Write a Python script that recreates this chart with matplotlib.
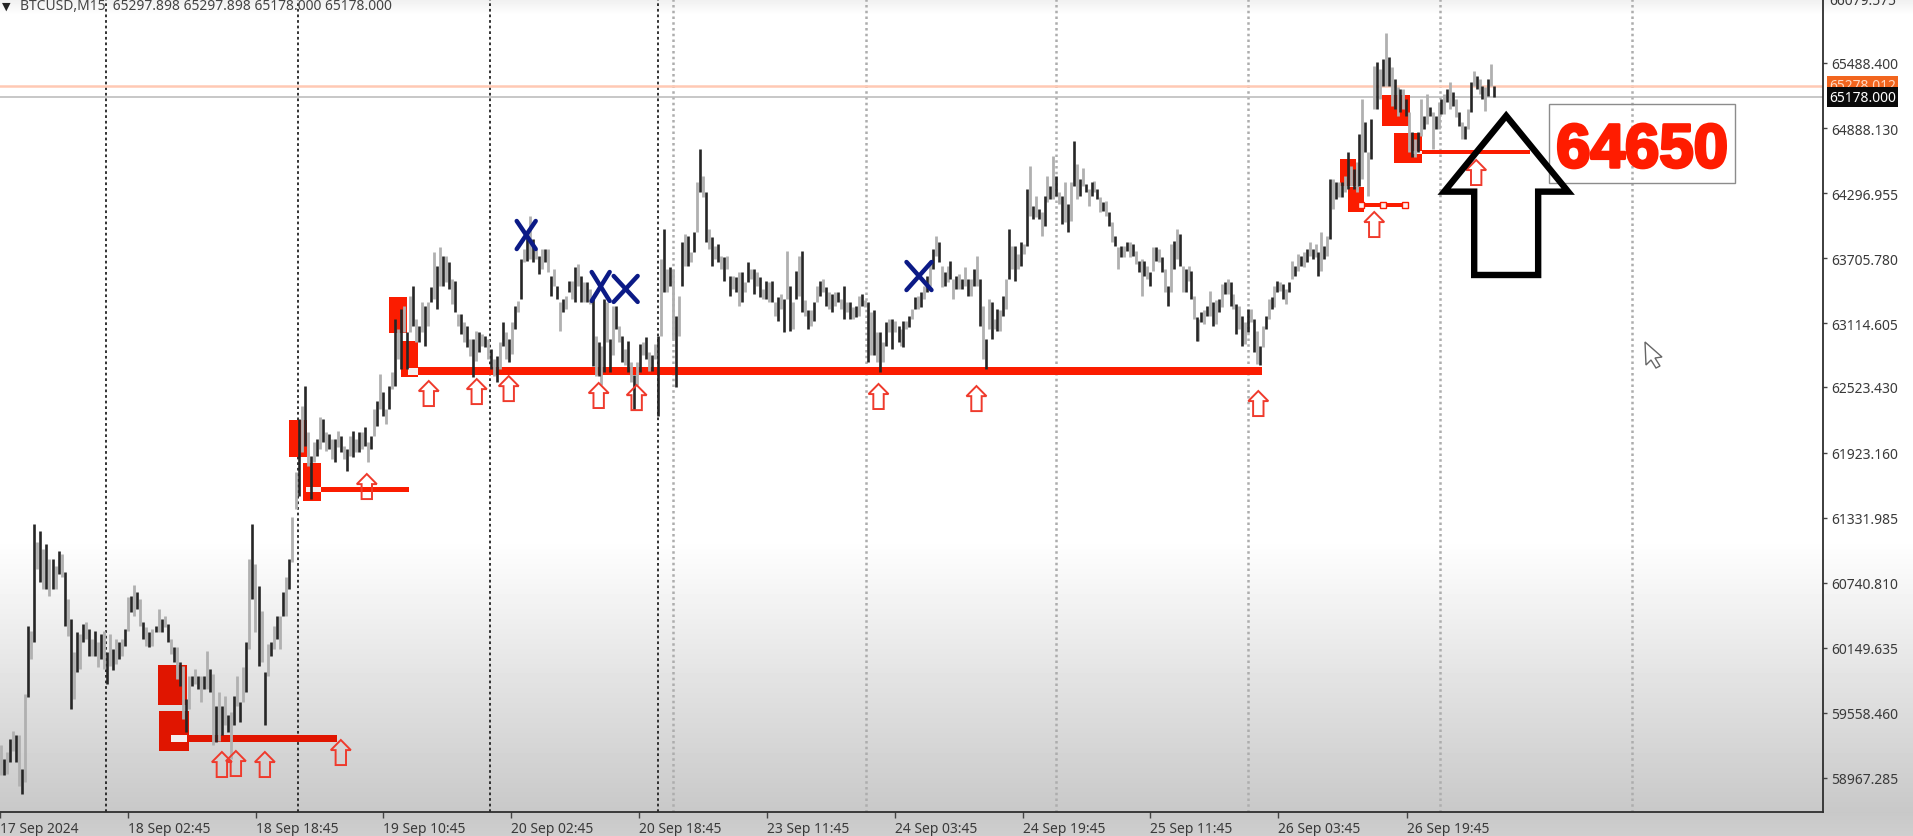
import numpy as np
import matplotlib
matplotlib.use("Agg")
import matplotlib.pyplot as plt
import matplotlib.patheffects as pe
from matplotlib.patches import Polygon, Rectangle
from matplotlib.transforms import IdentityTransform

# (low, high) price of the bars, section by section
hl_1 = [(58990,59263),(58990,59142),(59005,59202),(59111,59323),(59217,59399),(59111,59354),(58899,59354),(58823,59051),
(58930,59732),(59702,60354),(60051,60308),(60202,61278),(60869,61111),(60747,61217),(60687,61050),(60687,61096),
(60626,60960),(60687,60960),(60687,60899),(60823,61035),(60793,61005),(60354,60838),(60263,60596),(59596,60414),
(59687,60111),(59929,60293),(59960,60278),(60202,60369),(60232,60384),(60081,60323),(60081,60232),(60081,60308),
(59975,60202),(60051,60278),(59960,60308),(59823,60111),(59990,60278),(59945,60141),(60005,60232),(60051,60202),
(60081,60232),(60172,60323),(60308,60611),(60475,60626),(60445,60723),(60505,60657),(60354,60596),(60232,60384),
(60172,60338),(60157,60293),(60172,60323),(60293,60354),(60293,60505),(60293,60414),(60338,60445),(60202,60369),
(60096,60232),(60020,60157),(59869,60157),(59808,60020),(59505,59990),(59384,59687),(59596,59899),(59808,59899),
(59823,59960),(59778,59899),(59657,59899),(59778,59899),(59778,60126),(59748,59960),(59263,59914),(59293,59626),
(59308,59748),(59354,59626),(59445,59717),(59384,59536),(59142,59566),(59445,59717),(59626,59899),(59475,59657),
(59657,59975),(59748,60202),(60141,60960),(60596,61278),(60293,60914),(59990,60717),(60020,60490),(59445,59929),
(59899,60187),(60081,60202),(60141,60354),(60232,60445),(60141,60445),(60445,60657),(60445,60793),(60687,60960),
(60929,61338)]
hl_2 = [(61415,61748),(61535,62233),(61930,62354),(61990,62536),(61809,62112),(61506,61900),(61839,62021),(61900,62051),
(61960,62248),(62021,62233),(61945,62112),(61960,62097),(61869,62051),(61839,62051),(61975,62127),(61930,62081),
(61869,61990),(61763,61960),(61900,62081),(61885,62127),(61930,62051),(61930,62112),(61960,62112),(61990,62157),
(61839,62021),(61960,62081),(62081,62324),(62172,62400),(62324,62642),(62263,62475),(62188,62324),(62324,62536),
(62506,62657),(62536,63142),(62778,63051),(62687,63233),(63021,63263),(62687,63021),(63021,63354),(63081,63445),
(62930,63142),(62930,63081),(63021,63293),(62900,63263),(63081,63293),(63293,63430),(63324,63748),(63233,63627),
(63445,63793),(63445,63718),(63475,63718),(63415,63657),(63278,63506),(63203,63490),(63081,63188),(63006,63188),
(62930,63112),(62885,63081),(62809,62960),(62612,62960),(62763,63036),(62839,63021),(62900,63006),(62885,62990),
(62779,62960),(62687,62870),(62627,62779),(62566,62809),(62687,62930),(62900,63112),(62778,63021),(62748,62960),
(62824,63112),(63051,63263),(63203,63309),(63324,63687),(63657,63778),(63672,63900),(63687,64078),(63657,63869),
(63688,63778),(63551,63718),(63596,63778),(63657,63778),(63566,63778),(63354,63536),(63445,63596),(63324,63445),
(63036,63293),(63203,63324),(63233,63354),(63384,63490),(63324,63490),(63293,63612),(63445,63642),(63293,63536),
(63293,63475),(63293,63475),(63278,63415),(62718,63324),(62627,62990),(62627,62930)]
hl_3 = [(62537,62900),(62658,63325),(62931,63294),(62658,62961),(62810,63264),(63052,63264),(62931,63082),(62749,62991),
(62719,62870),(62658,62946),(62567,62749),(62310,62628),(62537,62749),(62658,62916),(62810,62931),(62779,62976),
(62673,62840),(62673,62810),(62779,62916),(62264,62991),(62991,63688),(63385,63961),(63385,63597),(63446,63613),
(62961,63597),(62522,63173),(62991,63355),(63446,63840),(63628,63916),(63628,63900),(63658,63749),(63749,63931),
(63931,64385),(64294,64688),(64249,64446),(63840,64294),(63779,63961),(63628,63885),(63688,63810),(63658,63825),
(63597,63719),(63491,63703),(63597,63719),(63355,63537),(63416,63537),(63385,63522),(63264,63567),(63294,63567),
(63385,63476),(63476,63658),(63507,63597),(63370,63597),(63446,63567),(63340,63522),(63325,63416),(63325,63491),
(63294,63476),(63294,63491),(63173,63294),(63128,63340),(63234,63370),(63022,63325),(63325,63764),(63037,63446),
(63052,63294),(63325,63582),(63355,63719),(63204,63764),(63173,63310),(63052,63219),(63082,63219),(63128,63294),
(63294,63446),(63355,63491),(63385,63507),(63264,63431),(63234,63385),(63204,63370),(63264,63385),(63294,63385),
(63234,63325),(63143,63446),(63204,63294),(63143,63294),(63143,63249),(63158,63264),(63173,63355),(63264,63370),
(63249,63310),(62749,63294),(62810,63204),(62810,63219),(62749,63022),(62658,63022),(62749,62931),(62900,63113),
(63022,63143),(62870,63143),(63022,63128),(62931,63082)]
hl_4 = [(62900,63052),(62885,63128),(63052,63128),(63067,63173),(63143,63234),(63234,63340),(63234,63355),(63249,63385),
(63325,63446),(63385,63537),(63446,63658),(63597,63779),(63719,63900),(63658,63840),(63431,63628),(63446,63567),
(63476,63628),(63506,63673),(63325,63507),(63416,63537),(63416,63552),(63416,63507),(63446,63612),(63355,63507),
(63355,63507),(63446,63597),(63446,63719),(63082,63507),(62779,63264),(62688,62961),(63052,63325),(62961,63294),
(63052,63143),(63037,63234),(63037,63219),(63173,63355),(63234,63507),(63507,63961),(63597,63809),(63491,63809),
(63597,63734),(63628,63840),(63734,63825),(63809,64325),(64082,64537),(64052,64173),(64067,64264),(64052,64143),
(63900,64113),(63991,64264),(64204,64446),(64234,64355),(64234,64628),(64264,64446),(64188,64294),(64006,64264),
(64022,64385),(63931,64188),(64037,64385),(64355,64764),(64234,64552),(64264,64415),(64355,64512),(64294,64370),
(64173,64325),(64264,64385),(64294,64400),(64234,64325),(64113,64249),(64128,64204),(64082,64219),(63991,64113),
(63840,64022),(63809,63900),(63597,63794),(63703,63809),(63703,63809),(63764,63846),(63703,63846),(63719,63825),
(63643,63764),(63567,63673),(63355,63688),(63537,63673),(63506,63628),(63446,63567),(63582,63794),(63673,63794),
(63658,63779),(63567,63703),(63385,63597),(63264,63446),(63385,63825),(63597,63855),(63688,63961),(63628,63916),
(63385,63628),(63385,63597),(63491,63628),(63325,63582),(63143,63355),(62946,63158)]
hl_5 = [(62946,63143),(63113,63204),(63097,63219),(63173,63264),(63173,63400),(63082,63294),(63097,63310),(63204,63325),
(63249,63461),(63370,63476),(63370,63506),(63264,63476),(63234,63370),(63006,63279),(63052,63264),(62900,63173),
(62916,63113),(63022,63234),(63113,63234),(62840,63143),(62734,63037),(62719,62900),(62885,63082),(63052,63173),
(63143,63325),(63234,63340),(63249,63446),(63385,63491),(63400,63476),(63325,63461),(63279,63415),(63385,63476),
(63506,63673),(63537,63628),(63582,63734),(63628,63719),(63613,63749),(63658,63779),(63719,63840),(63688,63779),
(63704,63825),(63537,63749),(63582,63931),(63688,63810),(63719,63900),(63870,64416),(64143,64416),(64234,64385),
(64249,64385),(64249,64385),(64294,64446),(64325,64658),(64355,64537),(64325,64507),(64294,64567),(64355,64825),
(64416,65143),(64658,64931),(64264,64658),(64597,64961),(65052,65446),(65052,65476),(65143,65415),(65264,65506),
(65264,65743),(65264,65522),(65082,65431),(65052,65325),(64991,65249),(65022,65234),(65052,65234),(64991,65143),
(64658,65022),(64613,64840),(64613,64779),(64658,64840),(64810,65143),(64870,64991),(64916,65188),(64991,65067),
(64688,65022),(64870,64991),(64870,65112),(65006,65143),(65006,65188),(65112,65234),(65052,65294),(65082,65203),
(64976,65143),(64900,65022),(64779,64931),(64779,64900),(64870,65052),(65022,65294),(65264,65400),(65234,65355),
(65188,65325),(65143,65264),(65037,65249),(65173,65325),(65264,65461),(65158,65264)]
sections = [(hl_1, 0, 145.5), (hl_2, 147.5, 299), (hl_3, 300, 449), (hl_4, 450, 598.5), (hl_5, 599, 747)]

price_labels = ["58967.285", "59558.460", "60149.635", "60740.810", "61331.985", "61923.160", "62523.430",
                "63114.605", "63705.780", "64296.955", "64888.130", "65488.400"]
price_marks = [58967.285, 59558.46, 60149.635, 60740.81, 61331.985, 61923.16, 62523.43,
               63102, 63695, 64287, 64876, 65470]
top_label = "66079.575"
bid_label, bid_level = "65178.000", 65160
ask_label, ask_level = "65278.012", 65262
date_ticks = [-0.5, 63.5, 127.5, 191, 255, 319, 383, 447, 511.5, 575, 639, 703.5]
date_labels = ["17 Sep 2024", "18 Sep 02:45", "18 Sep 18:45", "19 Sep 10:45", "20 Sep 02:45", "20 Sep 18:45",
               "23 Sep 11:45", "24 Sep 03:45", "24 Sep 19:45", "25 Sep 11:45", "26 Sep 03:45", "26 Sep 19:45"]
black_seps = [52.5, 148.5, 244.5, 328.5]
gray_seps = [336, 432.5, 528, 624, 720, 816]

# red zones: bar from, bar to, price low, price high
zones = [(78.5,93,59631,59995),(79,94,59213,59577),(144,153,61887,62223),(151,160,61487,61832),
         (194,203,63015,63342),(200,208.5,62614,62942),(670,678,64352,64597),(674,682,64115,64342),
         (691,705,64897,65179),(697,711,64561,64833)]
levels = [(94,168,59295,59358),(160,204,61568,61614),(208.5,631,62632,62705),(679,703.5,64160,64197),(711,765,64642,64679)]
holes = [(85,93,59295,59358),(152.5,160,61568,61614),(203.5,208.5,62632,62696),(706,711,64642,64670)]
handles = [680.5, 691.5, 702.5]
handle_price = 64178
up_arrows = [(110.5,59204),(117.5,59213),(132,59204),(170,59313),(183,61732),(214,62578),(238,62596),(254,62623),
             (299,62560),(318,62541),(439,62551),(488,62532),(629,62487),(687,64115),(738,64588)]
crosses = [(258,267.5,63778,64033),(295.5,304.5,63306,63569),(306.5,318.5,63297,63533),(453,465.5,63405,63660)]
big_arrow = [(753,64990),(784,64300),(769,64300),(769,63542),(737,63542),(737,64300),(722,64300)]
note_box = (774.5,867.5,64379,65097)
note_text = "64650"

W, H = 1913, 837
fig = plt.figure(figsize=(W/100, H/100), dpi=100)
bg = fig.add_axes([0, 0, 1, 1], zorder=0)
rows = np.arange(H)
shade = np.interp(rows, [0, 16, 540, 813, 837], [0.94, 1.0, 1.0, 0.785, 0.81])
bg.imshow(shade[:, None], cmap="gray", vmin=0, vmax=1, aspect="auto")
bg.axis("off")

ax = fig.add_axes([0, 1-813/H, 1823/W, 813/H], zorder=1)
ax.patch.set_alpha(0)
ax.set_xlim(0, 911.5)
ax.set_ylim(58658, 66052)
for s in ("top", "left"):
    ax.spines[s].set_visible(False)
for s in ("right", "bottom"):
    ax.spines[s].set_color("#2e2e2e")
    ax.spines[s].set_linewidth(1.3)

tick_font = dict(family="Noto Sans", color="#3a3a3a")
ax.yaxis.tick_right()
ax.set_yticks(price_marks, price_labels, fontsize=10, **tick_font)
ax.set_xticks(date_ticks, date_labels, fontsize=10, ha="left", **tick_font)
ax.tick_params(axis="y", length=3, width=1, color="#444", pad=3)
ax.tick_params(axis="x", length=4, width=1, color="#444", pad=2.5)
ax.text(1829/1823, 66040, top_label, transform=ax.get_yaxis_transform(), va="center",
        fontsize=10, clip_on=False, **tick_font)

for x in black_seps:
    ax.axvline(x, color="#222", lw=1.3, ls=(0, (1.5, 1.6)), zorder=2)
for x in gray_seps:
    ax.axvline(x, color="#adadad", lw=1.8, ls=(0, (1, 1.3)), zorder=2)
ax.axhline(ask_level, color="#ffc9b4", lw=1.8, zorder=2)
ax.axhline(bid_level, color="#bdbdbd", lw=1.2, zorder=2)

for b0, b1, lo, hi in zones + levels:
    red = "#e01500" if hi < 60000 else "#fb1c00"
    ax.add_patch(Rectangle((b0, lo), b1-b0, hi-lo, fc=red, ec="none", zorder=3))
for b0, b1, lo, hi in holes:
    ax.add_patch(Rectangle((b0, lo), b1-b0, hi-lo, fc="#f4eeee", ec="none", zorder=3.1))
ax.plot(handles, [handle_price]*3, ls="none", marker="s", ms=4, mfc="#fff0ee", mec="#fb1c00", mew=1, zorder=3.2)

for hl, b0, b1 in sections:
    xs = np.linspace(b0, b1, len(hl))
    lows = np.array([p[0] for p in hl])
    highs = np.array([p[1] for p in hl])
    ax.vlines(xs[0::2], lows[0::2], highs[0::2], color="#b0b0b0", lw=2.0, zorder=4)
    ax.vlines(xs[1::2], lows[1::2], highs[1::2], color="#262626", lw=1.9, zorder=4.1)

for c, tip in up_arrows:
    pts = [(c, tip), (c+5, tip-92), (c+2.6, tip-92), (c+2.6, tip-228), (c-2.6, tip-228), (c-2.6, tip-92), (c-5, tip-92)]
    ax.add_patch(Polygon(pts, closed=True, fc="none", ec="#ef3a2c", lw=1.4, zorder=5))

for b0, b1, lo, hi in crosses:
    ax.plot([b0, b1], [lo, hi], color="#0b1a86", lw=3.2, solid_capstyle="round", zorder=6)
    ax.plot([b0, b1], [hi, lo], color="#0b1a86", lw=3.2, solid_capstyle="round", zorder=6)

b0, b1, lo, hi = note_box
ax.add_patch(Rectangle((b0, lo), b1-b0, hi-lo, fc="none", ec="#8c8c8c", lw=1, zorder=5))
ax.text((b0+b1)/2, (lo+hi)/2-75, note_text, ha="center", va="center", color="#ff1c00", fontsize=44.5,
        family="Liberation Sans", fontweight="bold", zorder=6,
        path_effects=[pe.withStroke(linewidth=2.2, foreground="#ff1c00")])

ax.add_patch(Polygon(big_arrow, closed=True, fc="none", ec="black", lw=4.6, joinstyle="miter", zorder=7))

# price flags on the right edge
for label, level, fc, tc in ((ask_label, ask_level, "#f2651e", "#ffd9c2"), (bid_label, bid_level, "#0a0a0a", "#ffffff")):
    ax.text(1829/1823, level, label, transform=ax.get_yaxis_transform(), va="center", ha="left",
            fontsize=10, color=tc, family="Noto Sans", clip_on=False, zorder=8,
            bbox=dict(boxstyle="square,pad=0.18", fc=fc, ec="none"))

fig.text(2/W, 1-7/H, "\u25bc", fontsize=8, color="#222", va="center", family="DejaVu Sans", zorder=9)
fig.text(20/W, 1-7/H, "BTCUSD,M15  65297.898 65297.898 65178.000 65178.000", fontsize=10, color="#444",
         va="center", family="Noto Sans", zorder=9)

# mouse pointer left on the screen
cursor = np.array([(1645,343),(1646,366),(1651,361),(1656,369),(1660,367),(1655,359),(1662,358)], float)
cursor[:, 1] = H - cursor[:, 1]
fig.add_artist(Polygon(cursor, closed=True, fc="white", ec="#666", lw=1, transform=IdentityTransform(), zorder=9))

fig.savefig("out.png", dpi=100)
